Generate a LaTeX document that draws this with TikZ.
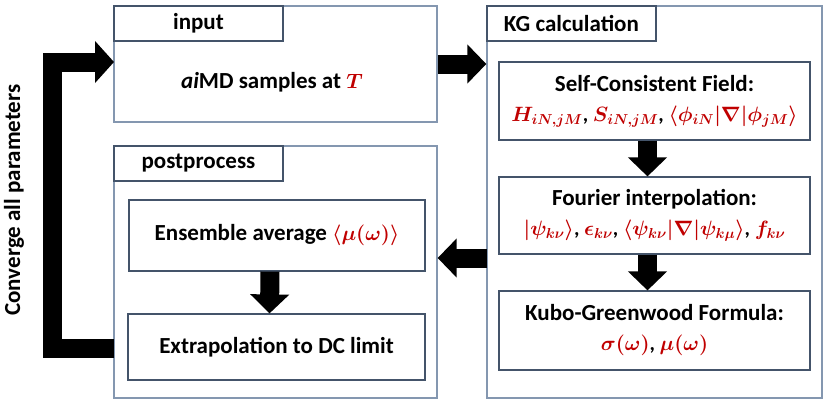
\documentclass[tikz,border=0pt]{standalone}
\usepackage{amsmath,amssymb}
\usepackage{fontspec}
\setmainfont{Carlito}
\usepackage{xcolor}
\usetikzlibrary{arrows.meta}
\definecolor{kgred}{HTML}{C00000}
\definecolor{frameline}{HTML}{8497B0}
\definecolor{boxline}{HTML}{44546A}
\newcommand{\rd}[1]{\textcolor{kgred}{$#1$}}
\newcommand{\mathline}{\fontsize{21}{26}\selectfont}

\begin{document}
\begin{tikzpicture}[x=1pt, y=-1pt, every node/.style={font=\fontsize{23}{30}\selectfont\bfseries\boldmath},
  frame/.style={draw=frameline, line width=1.3pt, inner sep=0pt},
  tab/.style={draw=boxline, line width=1.2pt, anchor=north west, minimum width=169pt, minimum height=35pt, inner sep=0pt},
  stepbox/.style={draw=boxline, line width=1.2pt, align=center, inner sep=0pt},
  bigarrow/.style={line width=19pt, -{Triangle[width=38pt,length=19pt]}}]
  \useasboundingbox (0,0) rectangle (830,405);
  % outer frames
  \node[frame, minimum width=323pt, minimum height=116pt] (input) at (275.5,64) {};
  \node[frame, minimum width=323pt, minimum height=252pt] (post) at (275.5,272) {};
  \node[frame, minimum width=335pt, minimum height=392pt] (kg) at (654.5,202) {};
  % tabs
  \node[tab] (intab) at (input.north west) {input};
  \node[tab] (posttab) at (post.north west) {postprocess};
  \node[tab] (kgtab) at (kg.north west) {KG calculation};
  % input
  \node (samples) at (272,82) {\textit{ai}MD samples at {\mathline\rd{T}}};
  % KG steps
  \node[stepbox, minimum width=311pt, minimum height=78pt] (scf) at (654.5,101)
    {Self-Consistent Field:\\ \mathline\rd{H_{iN,jM}}, \rd{S_{iN,jM}}, \rd{\langle\phi_{iN}|\nabla|\phi_{jM}\rangle}};
  \node[stepbox, minimum width=311pt, minimum height=77pt] (fourier) at (654.5,215.5)
    {Fourier interpolation:\\ \mathline\rd{|\psi_{k\nu}\rangle}, \rd{\epsilon_{k\nu}}, \rd{\langle\psi_{k\nu}|\nabla|\psi_{k\mu}\rangle}, \rd{f_{k\nu}}};
  \node[stepbox, minimum width=311pt, minimum height=79pt] (kubo) at (654.5,330.5)
    {Kubo-Greenwood Formula:\\ \mathline\rd{\sigma(\omega)}, \rd{\mu(\omega)}};
  % postprocess steps
  \node[stepbox, minimum width=296pt, minimum height=71pt] (ensemble) at (277,235.5)
    {Ensemble average {\mathline\rd{\langle\mu(\omega)\rangle}}};
  \node[stepbox, minimum width=297pt, minimum height=66pt] (extrap) at (276.5,347)
    {Extrapolation to DC limit};
  % arrows
  \draw[bigarrow] (input.east) -- (input.east -| kg.west);
  \coordinate (kgout) at (487,258);
  \draw[bigarrow] (kgout) -- (kgout -| post.east);
  \draw[bigarrow] ([xshift=-7pt]scf.south) -- ([xshift=-7pt]fourier.north);
  \draw[bigarrow] ([xshift=-7pt]fourier.south) -- ([xshift=-7pt]kubo.north);
  \draw[bigarrow] ([xshift=-7pt]ensemble.south) -- ([xshift=-7pt]extrap.north);
  % convergence loop
  \coordinate (loopin) at (114,62);
  \coordinate (loopout) at (114,348.5);
  \draw[bigarrow, -{Triangle[width=41pt,length=19pt]}, line join=miter]
    (loopout) -- (52,348.5) -- (52,62) -- (loopin);
  \node[rotate=90] (converge) at (14,200) {Converge all parameters};
\end{tikzpicture}
\end{document}
